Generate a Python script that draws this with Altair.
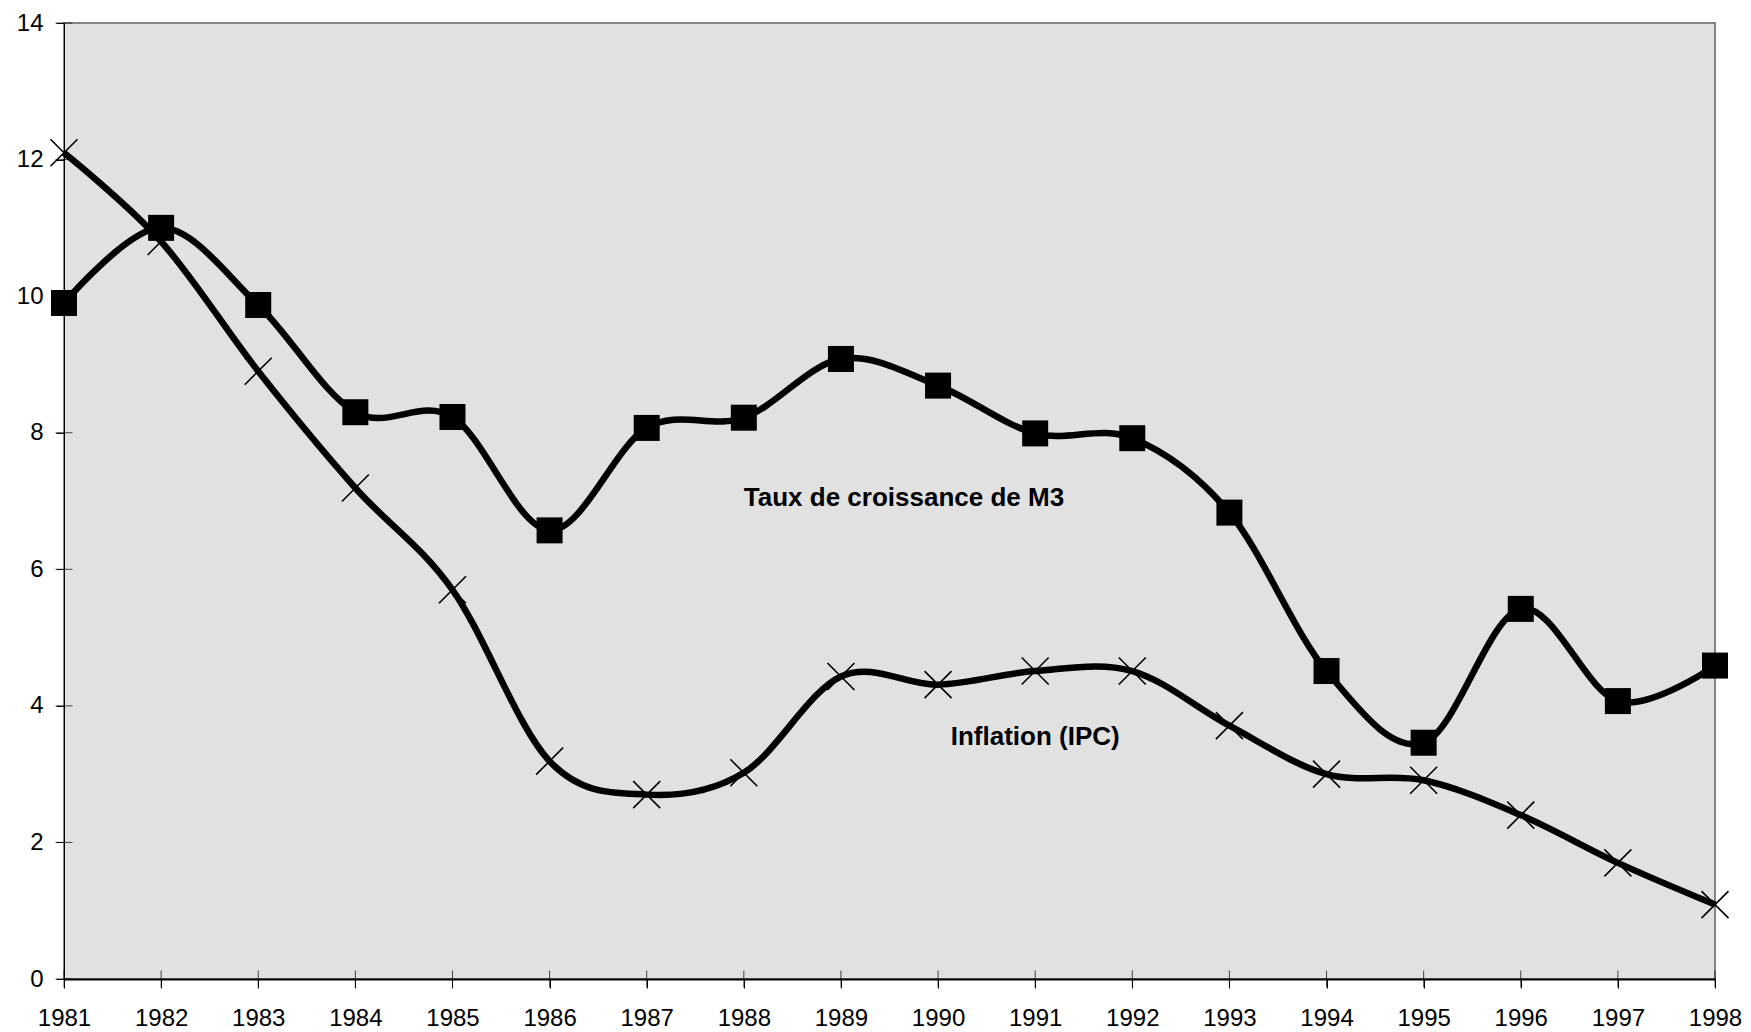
import altair as alt
import pandas as pd

years = list(range(1981, 1999))
m3 = [9.90, 11.0, 9.87, 8.30, 8.23, 6.57, 8.07, 8.22, 9.08, 8.69, 7.99, 7.92, 6.83, 4.51, 3.46, 5.42, 4.07, 4.59]
ipc = [12.1, 10.8, 8.90, 7.19, 5.70, 3.19, 2.70, 3.02, 4.43, 4.31, 4.51, 4.51, 3.71, 3.00, 2.91, 2.40, 1.70, 1.09]
y_ticks = [0, 2, 4, 6, 8, 10, 12, 14]
label_texts = ["Taux de croissance de M3", "Inflation (IPC)"]
label_x = [1988.0, 1990.13]
label_y = [6.93, 3.43]

df_m3 = pd.DataFrame({"year": years, "value": m3})
df_ipc = pd.DataFrame({"year": years, "value": ipc})
df_lab = pd.DataFrame({"year": label_x, "value": label_y, "text": label_texts})
df_xt = pd.DataFrame({"year": years})
df_yt = pd.DataFrame({"value": y_ticks})

FONT = "Liberation Sans"

x_scale = alt.Scale(domain=[1981, 1998], nice=False, zero=False)
y_scale = alt.Scale(domain=[0, 14], nice=False, zero=False)

x_enc = alt.X("year:Q", scale=x_scale, title=None,
              axis=alt.Axis(values=years, format="d", grid=False, tickSize=9,
                            tickColor="black", domainColor="black", domainWidth=2,
                            labelFontSize=24, labelFont=FONT, labelColor="black",
                            labelPadding=18, labelFlush=False, labelOverlap=False))
y_enc = alt.Y("value:Q", scale=y_scale, title=None,
              axis=alt.Axis(values=y_ticks, format="d", grid=False, tickSize=8,
                            tickColor="black", domainColor="black", domainWidth=1,
                            labelFontSize=24, labelFont=FONT, labelColor="black",
                            labelPadding=13, labelFlush=False))

line_ipc = alt.Chart(df_ipc).mark_line(color="black", strokeWidth=6.5, interpolate="cardinal").encode(x=x_enc, y=y_enc)
pts_ipc = alt.Chart(df_ipc).mark_point(shape="M-1,-1L1,1M-1,1L1,-1", filled=False, stroke="black",
                                       strokeWidth=1.6, size=729, opacity=1).encode(x="year:Q", y="value:Q")
line_m3 = alt.Chart(df_m3).mark_line(color="black", strokeWidth=6.5, interpolate="cardinal").encode(x="year:Q", y="value:Q")
pts_m3 = alt.Chart(df_m3).mark_point(shape="square", filled=True, color="black",
                                     size=676, opacity=1).encode(x="year:Q", y="value:Q")
labels = alt.Chart(df_lab).mark_text(align="left", baseline="alphabetic", font=FONT, fontSize=26,
                                     fontWeight="bold", color="black").encode(x="year:Q", y="value:Q", text="text:N")
xticks = alt.Chart(df_xt).mark_tick(orient="vertical", size=17, thickness=1, color="black").encode(
    x="year:Q", y=alt.datum(0))
yticks = alt.Chart(df_yt).mark_tick(orient="horizontal", size=17, thickness=1, color="black").encode(
    y="value:Q", x=alt.datum(1981))

chart = alt.layer(line_ipc, pts_ipc, line_m3, pts_m3, labels, xticks, yticks).properties(
    width=1651, height=956,
    autosize=alt.AutoSizeParams(type="none"),
    padding={"left": 56, "top": 15, "right": 28, "bottom": 51},
    background="white",
).configure_view(fill="#E1E1E1", stroke="#858585", strokeWidth=2)

chart.save("out.html", embed_options={"renderer": "svg", "actions": False})
